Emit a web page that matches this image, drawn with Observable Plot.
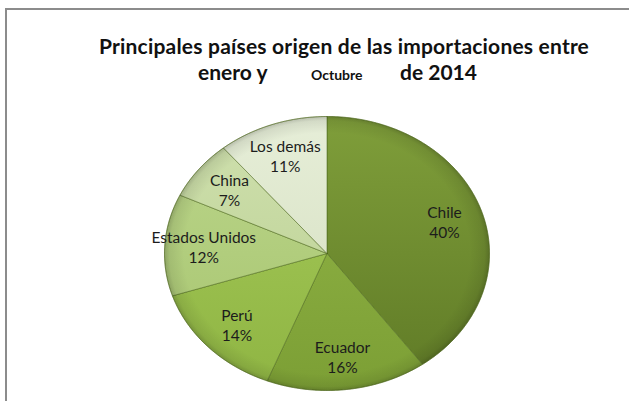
<!DOCTYPE html>
<html><head><meta charset="utf-8">
<script src="https://cdn.jsdelivr.net/npm/d3@7"></script>
<script src="https://cdn.jsdelivr.net/npm/@observablehq/plot@0.6"></script>
<style>
body{margin:0;background:#fff;}
#wrap{position:relative;width:629px;height:401px;overflow:hidden;font-family:Lato,"Open Sans",sans-serif;background:#fff;}
#frame{position:absolute;left:5px;top:8px;width:700px;height:500px;border-left:2px solid #8c8c8c;border-top:2px solid #8c8c8c;}
#chart{position:absolute;left:0;top:0;}
.t{position:absolute;font-weight:bold;color:#111;white-space:nowrap;line-height:20px;}
</style></head><body>
<div id="wrap">
  <div id="frame"></div>
  <div id="chart"></div>
  <div class="t" style="left:0;width:688px;text-align:center;top:36px;font-size:21px;letter-spacing:0.2px;">Principales países origen de las importaciones entre</div>
  <div class="t" style="left:198px;top:62px;font-size:21px;">enero y</div>
  <div class="t" style="left:311px;top:65px;font-size:14px;">Octubre</div>
  <div class="t" style="left:400px;top:62px;font-size:21px;">de 2014</div>
</div>
<script>
const names = ["Chile", "Ecuador", "Perú", "Estados Unidos", "China", "Los demás"];
const shares = [40, 16, 14, 12, 7, 11];
const colorsTop = ["#7f9e3a", "#93b648", "#a6ca5a", "#bcd68c", "#cfe0ae", "#e6eed8"];
const colorsBottom = ["#5f7a26", "#7c9f35", "#8fb543", "#a6c46e", "#b9cf90", "#d3ddbd"];

const rows = names.map((name, i) => ({name, share: shares[i], i}));
const arcs = d3.pie().sort(null).value(d => d.share)(rows);

// slice polygons in unit coordinates, derived from the pie angles
function slicePoints(a) {
  const pts = [{x: 0, y: 0}];
  const n = Math.max(2, Math.ceil((a.endAngle - a.startAngle) / 0.01));
  for (let k = 0; k <= n; k++) {
    const t = a.startAngle + (a.endAngle - a.startAngle) * k / n;
    pts.push({x: Math.sin(t), y: Math.cos(t)});
  }
  pts.push({x: 0, y: 0});
  return pts;
}
const outline = d3.range(0, 361).map(k => ({x: Math.sin(k * Math.PI / 180), y: Math.cos(k * Math.PI / 180)}));

const labelR = 0.76;
const labels = arcs.map(a => {
  const m = (a.startAngle + a.endAngle) / 2;
  return {x: labelR * Math.sin(m), y: labelR * Math.cos(m), text: `${a.data.name}\n${a.data.share}%`};
});

const marks = [];
arcs.forEach((a, i) => {
  marks.push(Plot.line(slicePoints(a), {x: "x", y: "y", fill: `url(#g${i})`, stroke: "#4f6a1e", strokeOpacity: 0.55, strokeWidth: 1}));
});
marks.push(Plot.line(outline, {x: "x", y: "y", fill: "url(#edge)", stroke: "#556f22", strokeOpacity: 0.35, strokeWidth: 1}));
marks.push(Plot.text(labels, {x: "x", y: "y", text: "text", fontSize: 15.5, lineHeight: 1.3, fill: "#1c1c1c"}));

const pieTop = 116, pieBottom = 390, pieLeft = 164, pieRight = 489;
const chart = Plot.plot({
  width: 629, height: 401,
  marginLeft: pieLeft, marginRight: 629 - pieRight, marginTop: pieTop, marginBottom: 401 - pieBottom,
  x: {domain: [-1, 1], axis: null},
  y: {domain: [-1, 1], axis: null},
  style: {fontFamily: "Lato, 'Open Sans', sans-serif", background: "transparent"},
  marks
});

const ns = "http://www.w3.org/2000/svg";
const defs = document.createElementNS(ns, "defs");
arcs.forEach((a, i) => {
  const g = document.createElementNS(ns, "linearGradient");
  g.setAttribute("id", `g${i}`);
  g.setAttribute("gradientUnits", "userSpaceOnUse");
  g.setAttribute("x1", 0); g.setAttribute("x2", 0);
  g.setAttribute("y1", pieTop); g.setAttribute("y2", pieBottom);
  [[0, colorsTop[i]], [1, colorsBottom[i]]].forEach(([o, c]) => {
    const s = document.createElementNS(ns, "stop");
    s.setAttribute("offset", o); s.setAttribute("stop-color", c);
    g.appendChild(s);
  });
  defs.appendChild(g);
});
const r = document.createElementNS(ns, "radialGradient");
r.setAttribute("id", "edge");
[[0, "#000", 0], [0.88, "#000", 0], [0.97, "#000", 0.08], [1, "#000", 0.2]].forEach(([o, c, op]) => {
  const s = document.createElementNS(ns, "stop");
  s.setAttribute("offset", o); s.setAttribute("stop-color", c); s.setAttribute("stop-opacity", op);
  r.appendChild(s);
});
defs.appendChild(r);
chart.insertBefore(defs, chart.firstChild);
document.getElementById("chart").appendChild(chart);
</script>
</body></html>
